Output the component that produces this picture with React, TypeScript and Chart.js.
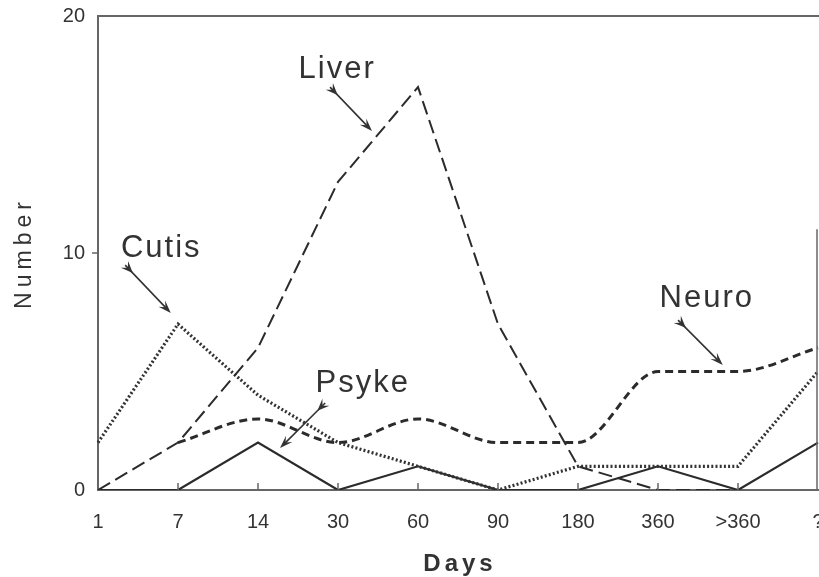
import React, { useEffect, useRef } from "react";
import { Chart, registerables } from "chart.js";

Chart.register(...registerables);

const categories = ["1", "7", "14", "30", "60", "90", "180", "360", ">360", "?"];
const liverValues = [0, 2, 6, 13, 17, 7, 1, 0, 0, null];
const cutisValues = [2, 7, 4, 2, 1, 0, 1, 1, 1, 5];
const neuroValues = [null, 2, 3, 2, 3, 2, 2, 5, 5, 6];
const psykeValues = [0, 0, 2, 0, 1, 0, 0, 1, 0, 2];
const yTickValues = [0, 10, 20];

// annotation labels, anchored in data space: [category index, value] of text centre/baseline
const noteLabels = ["Liver", "Cutis", "Psyke", "Neuro"];
const noteTextAt = [[2.99, 17.38], [0.79, 9.83], [3.31, 4.14], [7.61, 7.72]];
const noteArrowFrom = [[2.9, 17.0], [0.34, 9.49], [2.84, 3.67], [7.25, 7.17]];
const noteArrowTo = [[3.425, 15.15], [0.91, 7.47], [2.275, 1.77], [7.81, 5.27]];

const INK = "#2b2b2b";
const AXIS = "#666";
const FONT = "'Liberation Sans', Arial, Helvetica, sans-serif";

function drawHead(ctx: CanvasRenderingContext2D, x: number, y: number, ang: number, len: number, half: number) {
  ctx.beginPath();
  ctx.moveTo(x, y);
  ctx.lineTo(x - len * Math.cos(ang) + half * Math.sin(ang), y - len * Math.sin(ang) - half * Math.cos(ang));
  ctx.lineTo(x - len * 0.6 * Math.cos(ang), y - len * 0.6 * Math.sin(ang));
  ctx.lineTo(x - len * Math.cos(ang) - half * Math.sin(ang), y - len * Math.sin(ang) + half * Math.cos(ang));
  ctx.closePath();
  ctx.fill();
}

const decorPlugin = {
  id: "decor",
  afterDatasetsDraw(chart: any) {
    const { ctx, chartArea, scales } = chart;
    const xs = scales.x;
    const ys = scales.y;
    ctx.save();
    // top frame line
    ctx.strokeStyle = AXIS;
    ctx.lineWidth = 2;
    ctx.beginPath();
    ctx.moveTo(chartArea.left, chartArea.top);
    ctx.lineTo(chartArea.right + 10, chartArea.top);
    ctx.stroke();
    // right edge (partial, as in the scan)
    ctx.lineWidth = 1.5;
    ctx.beginPath();
    ctx.moveTo(chartArea.right - 1, ys.getPixelForValue(11));
    ctx.lineTo(chartArea.right - 1, chartArea.bottom);
    ctx.stroke();
    // inward x tick marks
    ctx.lineWidth = 1.5;
    for (let i = 1; i < categories.length - 1; i++) {
      const px = xs.getPixelForValue(i);
      ctx.beginPath();
      ctx.moveTo(px, chartArea.bottom);
      ctx.lineTo(px, chartArea.bottom - 7);
      ctx.stroke();
    }
    // outward y tick at 10
    const py = ys.getPixelForValue(10);
    ctx.beginPath();
    ctx.moveTo(chartArea.left - 6, py);
    ctx.lineTo(chartArea.left, py);
    ctx.stroke();

    // annotations
    ctx.fillStyle = "#333";
    ctx.strokeStyle = "#333";
    (ctx as any).letterSpacing = "2px";
    ctx.font = `31px ${FONT}`;
    ctx.textAlign = "center";
    ctx.textBaseline = "alphabetic";
    for (let i = 0; i < noteLabels.length; i++) {
      const tx = xs.getPixelForValue(noteTextAt[i][0]);
      const ty = ys.getPixelForValue(noteTextAt[i][1]);
      ctx.fillText(noteLabels[i], tx, ty);
      const x1 = xs.getPixelForValue(noteArrowFrom[i][0]);
      const y1 = ys.getPixelForValue(noteArrowFrom[i][1]);
      const x2 = xs.getPixelForValue(noteArrowTo[i][0]);
      const y2 = ys.getPixelForValue(noteArrowTo[i][1]);
      const ang = Math.atan2(y2 - y1, x2 - x1);
      ctx.lineWidth = 1.6;
      ctx.beginPath();
      ctx.moveTo(x1, y1);
      ctx.lineTo(x2 - 6 * Math.cos(ang), y2 - 6 * Math.sin(ang));
      ctx.stroke();
      drawHead(ctx, x2, y2, ang, 13, 4.5);
      drawHead(ctx, x1 + 11 * Math.cos(ang), y1 + 11 * Math.sin(ang), ang, 12, 5);
    }

    // axis titles
    ctx.fillStyle = "#333";
    (ctx as any).letterSpacing = "4px";
    ctx.font = `bold 24px ${FONT}`;
    ctx.textAlign = "center";
    ctx.fillText("Days", 460, 571);
    (ctx as any).letterSpacing = "5px";
    ctx.font = `23px ${FONT}`;
    ctx.translate(31, (chartArea.top + chartArea.bottom) / 2);
    ctx.rotate(-Math.PI / 2);
    ctx.fillText("Number", 0, 0);
    ctx.restore();
    (ctx as any).letterSpacing = "0px";
  },
};

function zeroPad(s: any) {
  s.paddingTop = 0;
  s.paddingBottom = 0;
  s.paddingLeft = 0;
  s.paddingRight = 0;
}

export default function App() {
  const ref = useRef<HTMLCanvasElement | null>(null);
  useEffect(() => {
    document.body.style.margin = "0";
    const canvas = ref.current;
    if (!canvas) return;
    const chart = new Chart(canvas, {
      type: "line",
      data: {
        labels: categories,
        datasets: [
          {
            label: "Liver",
            data: liverValues,
            borderColor: INK,
            borderWidth: 2,
            borderDash: [14, 6],
            pointRadius: 0,
            tension: 0,
            spanGaps: false,
          },
          {
            label: "Cutis",
            data: cutisValues,
            borderColor: "#333",
            borderWidth: 3.2,
            borderDash: [2, 2.2],
            pointRadius: 0,
            tension: 0,
          },
          {
            label: "Neuro",
            data: neuroValues,
            borderColor: INK,
            borderWidth: 3,
            borderDash: [8, 5],
            pointRadius: 0,
            cubicInterpolationMode: "monotone",
          },
          {
            label: "Psyke",
            data: psykeValues,
            borderColor: INK,
            borderWidth: 2.2,
            pointRadius: 0,
            tension: 0,
          },
        ],
      },
      options: {
        animation: false,
        responsive: false,
        maintainAspectRatio: false,
        layout: { padding: { left: 0, right: 22, top: 16, bottom: 0 } },
        plugins: { legend: { display: false }, tooltip: { enabled: false }, title: { display: false } },
        scales: {
          x: {
            type: "category",
            offset: false,
            grid: { display: false, drawTicks: false },
            border: { display: true, color: AXIS, width: 2 },
            ticks: {
              color: "#333",
              font: { family: FONT, size: 20 },
              padding: 20,
              maxRotation: 0,
              autoSkip: false,
            },
            afterFit: (s: any) => {
              s.height = 87;
              zeroPad(s);
            },
          },
          y: {
            type: "linear",
            min: 0,
            max: 20,
            afterBuildTicks: (s: any) => {
              s.ticks = yTickValues.map((v) => ({ value: v }));
            },
            grid: { display: false, drawTicks: false },
            border: { display: true, color: AXIS, width: 2 },
            ticks: {
              color: "#333",
              font: { family: FONT, size: 20 },
              padding: 13,
            },
            afterFit: (s: any) => {
              s.width = 98;
              zeroPad(s);
            },
          },
        },
      },
      plugins: [decorPlugin],
    });
    return () => chart.destroy();
  }, []);
  return (
    <div style={{ position: "fixed", left: 0, top: 0, width: 819, height: 577, overflow: "hidden", background: "#fff" }}>
      <div style={{ width: 840, height: 577 }}>
        <canvas ref={ref} width={840} height={577} style={{ display: "block", width: 840, height: 577 }} />
      </div>
    </div>
  );
}
